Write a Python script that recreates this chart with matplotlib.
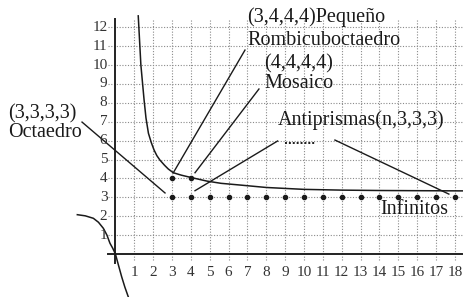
import matplotlib
matplotlib.use("Agg")
import matplotlib.pyplot as plt

# curve (upper branch and lower branch)
upper_x = [1.21, 1.35, 1.52, 1.62, 1.75, 1.9, 2.05, 2.2, 2.36, 2.6, 2.8, 3.07, 3.5, 3.96, 4.84, 5.6, 6.6, 8.0, 10.0, 12.0, 14.0, 16.0, 18.4]
upper_y = [12.6, 10.0, 8.15, 7.2, 6.39, 5.9, 5.5, 5.2, 4.97, 4.7, 4.5, 4.3, 4.17, 4.06, 3.86, 3.74, 3.65, 3.52, 3.42, 3.38, 3.36, 3.35, 3.34]
lower_x = [-2.02, -1.6, -1.17, -0.9, -0.64, -0.45, -0.29, -0.14, 0.0, 0.15, 0.33, 0.5, 0.68]
lower_y = [2.08, 2.02, 1.89, 1.68, 1.36, 1.0, 0.57, 0.3, 0.0, -0.55, -1.2, -1.75, -2.26]

# highlighted configurations
dots_x = [3, 4] + list(range(3, 19))
dots_y = [4, 4] + [3] * 16

x_ticks = list(range(1, 19))
y_ticks = list(range(1, 13))

# labels: (text, x, y)
labels = [
    ("(3,3,3,3)", -5.68, 7.42),
    ("Octaedro", -5.68, 6.42),
    ("(3,4,4,4)Pequeño", 6.96, 12.52),
    ("Rombicuboctaedro", 7.01, 11.32),
    ("(4,4,4,4)", 7.9, 10.05),
    ("Mosaico", 7.9, 9.0),
    ("Antiprismas(n,3,3,3)", 8.6, 7.09),
    ("Infinitos", 14.02, 2.33),
]

# leader lines: (x0, y0, x1, y1)
leaders = [
    (-1.77, 6.98, 2.63, 3.23),
    (6.87, 10.79, 3.07, 4.3),
    (7.61, 8.73, 4.22, 4.3),
    (8.6, 5.98, 4.22, 3.35),
    (11.64, 6.03, 17.68, 3.17),
]
dotted_seg = ([8.98, 10.6], [5.89, 5.89])

fig = plt.figure(figsize=(4.63, 2.97), dpi=100)
ax = fig.add_axes([0, 0, 1, 1])
ax.set_xlim(-6.12, 18.43)
ax.set_ylim(-2.275, 13.44)
ax.axis("off")

grid_kw = dict(color="#8a8a8a", lw=0.8, linestyle=(0, (1, 1.5)))
for x in x_ticks:
    ax.plot([x, x], [-0.3, 12.45], **grid_kw)
for y in y_ticks:
    ax.plot([-0.4, 18.4], [y, y], **grid_kw)

# axes
ax.plot([-0.4, 18.4], [0, 0], color="#222222", lw=1.4)
ax.plot([0, 0], [-0.5, 12.45], color="#222222", lw=1.4)

serif = ["Liberation Serif", "DejaVu Serif"]
for x in x_ticks:
    ax.text(x, -0.99, str(x), ha="center", va="center", fontsize=11, family=serif, color="#333333")
for y in y_ticks:
    ax.text(-0.42, y, str(y), ha="right", va="center", fontsize=11, family=serif, color="#333333")

ax.plot(upper_x, upper_y, color="#1a1a1a", lw=1.1)
ax.plot(lower_x, lower_y, color="#1a1a1a", lw=1.1)
ax.plot(dots_x, dots_y, "o", color="#1a1a1a", ms=3, ls="none")

for x0, y0, x1, y1 in leaders:
    ax.plot([x0, x1], [y0, y1], color="#1a1a1a", lw=1.0)
ax.plot(dotted_seg[0], dotted_seg[1], color="#1a1a1a", lw=1.4, linestyle=(0, (1, 1)))

for txt, x, y in labels:
    ax.text(x, y, txt, ha="left", va="center", fontsize=14.5, family=serif, color="#1a1a1a")

fig.savefig("out.png", dpi=100)
